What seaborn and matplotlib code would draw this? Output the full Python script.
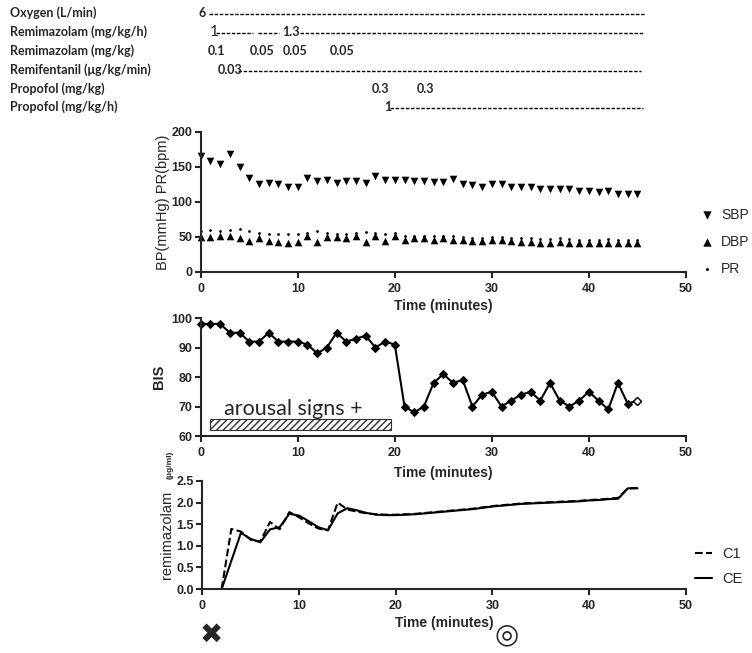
import numpy as np
import pandas as pd
import matplotlib
matplotlib.use("Agg")
import matplotlib.pyplot as plt
import matplotlib.transforms as mtransforms
from matplotlib.lines import Line2D
from matplotlib.patches import Rectangle
import seaborn as sns

# === Data ===
time_bp = list(range(0, 46))
sbp = [166, 158, 154, 168, 150, 134, 126, 127, 126, 122, 122, 134, 130, 132, 127, 130,
       130, 127, 137, 132, 132, 131, 130, 130, 129, 129, 133, 126, 124, 122, 125, 125,
       122, 121, 121, 119, 119, 119, 118, 116, 116, 114, 115, 112, 112, 112]
dbp = [50, 50, 52, 52, 48, 44, 48, 44, 43, 42, 43, 51, 43, 50, 50, 49,
       52, 43, 51, 44, 51, 46, 48, 48, 46, 48, 46, 45, 44, 44, 45, 45,
       44, 43, 43, 42, 42, 43, 42, 41, 41, 41, 42, 41, 41, 41]
pr = [58, 60, 59, 60, 61, 59, 56, 54, 54, 54, 54, 55, 58, 55, 54, 54,
      55, 57, 55, 54, 55, 51, 52, 52, 51, 52, 51, 50, 49, 49, 50, 50,
      49, 48, 48, 47, 47, 48, 47, 46, 46, 46, 47, 46, 46, 46]

time_bis = list(range(0, 46))
bis = [98, 98, 98, 95, 95, 92, 92, 95, 92, 92, 92, 91, 88, 90, 95, 92, 93, 94, 90, 92, 91,
       70, 68, 70, 78, 81, 78, 79, 70, 74, 75, 70, 72, 74, 75, 72, 78, 72, 70, 72, 75,
       72, 69, 78, 71, 72]
arousal_start = 1.0
arousal_end = 19.6

time_remi = list(range(2, 46))
ce = [0.0, 0.65, 1.30, 1.16, 1.08, 1.38, 1.43, 1.74, 1.70, 1.57, 1.43, 1.36, 1.75, 1.87,
      1.82, 1.76, 1.72, 1.71, 1.71, 1.72, 1.73, 1.75, 1.77, 1.79, 1.81, 1.83, 1.85, 1.88,
      1.91, 1.93, 1.95, 1.97, 1.98, 1.99, 2.00, 2.01, 2.02, 2.03, 2.05, 2.06, 2.08, 2.09,
      2.33, 2.33]
c1 = [0.0, 1.39, 1.33, 1.14, 1.10, 1.55, 1.38, 1.78, 1.66, 1.52, 1.40, 1.36, 2.00, 1.84,
      1.79, 1.75, 1.73, 1.72, 1.72, 1.73, 1.74, 1.76, 1.78, 1.80, 1.82, 1.84, 1.86, 1.89,
      1.92, 1.94, 1.96, 1.98, 1.99, 2.00, 2.01, 2.02, 2.03, 2.04, 2.06, 2.07, 2.09, 2.11,
      2.33, 2.34]

# drug table above the charts
row_labels = ['Oxygen (L/min)', 'Remimazolam (mg/kg/h)', 'Remimazolam (mg/kg)',
              'Remifentanil (μg/kg/min)', 'Propofol (mg/kg)', 'Propofol (mg/kg/h)']
dose_rows = [0, 1, 1, 2, 2, 2, 2, 3, 4, 4, 5]
dose_times = [-0.2, 0.9, 8.4, 0.7, 5.0, 8.4, 13.3, 1.7, 17.6, 22.3, 18.9]
dose_texts = ['6', '1', '1.3', '0.1', '0.05', '0.05', '0.05', '0.03', '0.3', '0.3', '1']
dash_rows = [0, 1, 1, 1, 3, 5]
dash_start = [0.8, 1.6, 5.9, 10.2, 3.8, 19.5]
dash_end = [45.7, 5.4, 8.1, 45.7, 45.4, 45.6]

# === Style ===
sns.set_style("ticks")
plt.rcParams['font.family'] = ['Liberation Sans', 'DejaVu Sans']

fig = plt.figure(figsize=(7.52, 6.53), dpi=100)
ax_bp = fig.add_axes([0.267, 0.5835, 0.645, 0.2144])
ax_bis = fig.add_axes([0.267, 0.3323, 0.645, 0.1807])
ax_re = fig.add_axes([0.269, 0.098, 0.643, 0.1654])
for a in [ax_bp, ax_bis, ax_re]:
  a.patch.set_visible(False)


def style_axes(ax, xpad=2):
  sns.despine(ax=ax)
  for s in ['left', 'bottom']:
    ax.spines[s].set_linewidth(1.5)
  ax.tick_params(direction='out', length=4, width=1.5, labelsize=9, pad=2)
  ax.tick_params(axis='x', pad=4)
  plt.setp(ax.get_xticklabels() + ax.get_yticklabels(), fontweight='bold')
  ax.set_xlabel('Time (minutes)', fontsize=10, fontweight='bold', labelpad=xpad)


# --- BP / PR ---
sns.scatterplot(x=time_bp, y=sbp, marker='v', s=30, color='black', linewidth=0,
                label='SBP', ax=ax_bp, clip_on=False)
sns.scatterplot(x=time_bp, y=dbp, marker='^', s=30, color='black', linewidth=0,
                label='DBP', ax=ax_bp, clip_on=False)
sns.scatterplot(x=time_bp, y=pr, marker='o', s=4, color='black', linewidth=0,
                label='PR', ax=ax_bp, clip_on=False)
ax_bp.set_xlim(0, 50)
ax_bp.set_ylim(0, 200)
ax_bp.set_xticks(range(0, 51, 10))
ax_bp.set_yticks(range(0, 201, 50))
style_axes(ax_bp, xpad=3)
ax_bp.set_ylabel('BP(mmHg) PR(bpm)', fontsize=10.5, labelpad=1)
ax_bp.legend(loc='upper left', bbox_to_anchor=(1.03, 0.46), frameon=False,
             fontsize=10, borderaxespad=0, borderpad=0, handlelength=1.0,
             handletextpad=0.5, labelspacing=0.95, markerscale=1.1)

# --- BIS ---
sns.lineplot(x=time_bis, y=bis, color='black', linewidth=1.5, marker='D',
             markersize=4.5, markeredgecolor='black', ax=ax_bis, clip_on=False)
ax_bis.plot(time_bis[-1:], bis[-1:], marker='D', markersize=4.5, color='black',
            markerfacecolor='white', markeredgewidth=1.0, linestyle='none', clip_on=False)
ax_bis.add_patch(Rectangle((arousal_start, 62), arousal_end - arousal_start, 3.7,
                           facecolor='white', edgecolor='#333333', hatch='/////',
                           linewidth=0.8))
ax_bis.text(arousal_start + 1.4, 67.0, 'arousal signs +', fontsize=15.5,
            family=['Lato', 'DejaVu Sans'], va='baseline', ha='left')
ax_bis.set_xlim(0, 50)
ax_bis.set_ylim(60, 100)
ax_bis.set_xticks(range(0, 51, 10))
ax_bis.set_yticks(range(60, 101, 10))
style_axes(ax_bis, xpad=5)
ax_bis.set_ylabel('BIS', fontsize=10.5, fontweight='bold', labelpad=4)

# --- remimazolam concentration ---
sns.lineplot(x=time_remi, y=c1, color='black', linewidth=1.5, linestyle='--',
             label='C1', ax=ax_re)
sns.lineplot(x=time_remi, y=ce, color='black', linewidth=1.5, label='CE', ax=ax_re)
ax_re.set_xlim(0, 50)
ax_re.set_ylim(0, 2.5)
ax_re.set_xticks(range(0, 51, 10))
ax_re.set_yticks(np.arange(0, 2.51, 0.5))
ax_re.yaxis.set_major_formatter(matplotlib.ticker.FormatStrFormatter('%.1f'))
style_axes(ax_re, xpad=3)
ax_re.set_ylabel('remimazolam', fontsize=10.5, labelpad=2)
ax_re.legend(loc='upper left', bbox_to_anchor=(1.018, 0.39), frameon=False,
             fontsize=10.5, borderaxespad=0, borderpad=0, handlelength=1.2,
             handletextpad=0.7, labelspacing=0.75)
fig.text(0.226, 0.288, '(μg/ml)', rotation=90, fontsize=6, fontweight='bold',
         ha='center', va='center')

# --- drug table ---
trans = mtransforms.blended_transform_factory(ax_bp.transData, fig.transFigure)
row_y = [1 - y / 653 for y in [13, 32, 51, 70, 89, 107]]
for lab, y in zip(row_labels, row_y):
  fig.text(0.013, y, lab, fontsize=9, fontweight='bold', family=['Lato', 'DejaVu Sans'],
           va='center', ha='left')
for r, t, txt in zip(dose_rows, dose_times, dose_texts):
  size = 11 if (r == 1 and txt == '1') else 9
  weight = 'normal' if size == 11 else 'bold'
  fig.text(t, row_y[r], txt, transform=trans, fontsize=size, fontweight=weight,
           family=['Lato', 'DejaVu Sans'], va='center', ha='left')
for r, t0, t1 in zip(dash_rows, dash_start, dash_end):
  fig.add_artist(Line2D([t0, t1], [row_y[r] - 0.001] * 2, transform=trans,
                        color='black', linewidth=1.0, linestyle=(0, (2.5, 1.2))))

# markers below the bottom chart
trans_re = mtransforms.blended_transform_factory(ax_re.transData, fig.transFigure)
fig.text(0.9, 0.028, '✖', transform=trans_re, fontsize=20, ha='center', va='center',
         family=['DejaVu Sans'])
fig.text(31.5, 0.028, '◎', transform=trans_re, fontsize=20, ha='center', va='center',
         family=['DejaVu Sans'])

fig.savefig('out.png', dpi=100)
